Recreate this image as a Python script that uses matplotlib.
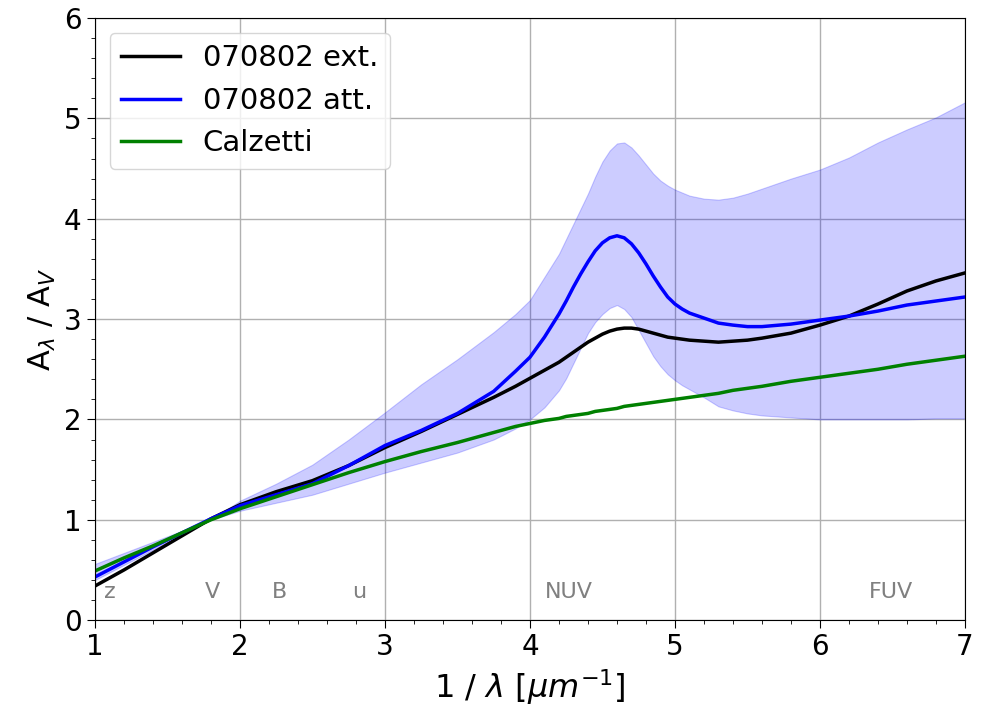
import numpy as np
import matplotlib
matplotlib.use('Agg')
import matplotlib.pyplot as plt
from matplotlib.ticker import MultipleLocator

# wartosci (1/lambda w um^-1)
x = [1.0, 1.2, 1.4, 1.6, 1.8, 2.0, 2.25, 2.5, 2.75, 3.0, 3.25, 3.5, 3.75, 3.9,
     4.0, 4.1, 4.2, 4.25, 4.3, 4.35, 4.4, 4.45, 4.5, 4.55, 4.6, 4.65, 4.7, 4.75,
     4.8, 4.85, 4.9, 4.95, 5.0, 5.05, 5.1, 5.2, 5.3, 5.4, 5.5, 5.6, 5.8, 6.0,
     6.2, 6.4, 6.6, 6.8, 7.0]

ext = [0.34, 0.50, 0.67, 0.84, 1.01, 1.15, 1.28, 1.39, 1.54, 1.72, 1.88, 2.05, 2.22, 2.33,
       2.41, 2.49, 2.57, 2.62, 2.67, 2.72, 2.77, 2.81, 2.85, 2.88, 2.90, 2.91, 2.91, 2.90,
       2.88, 2.86, 2.84, 2.82, 2.81, 2.80, 2.79, 2.78, 2.77, 2.78, 2.79, 2.81, 2.86, 2.94,
       3.03, 3.15, 3.28, 3.38, 3.46]

att = [0.43, 0.58, 0.73, 0.87, 1.01, 1.14, 1.25, 1.36, 1.54, 1.74, 1.89, 2.06, 2.28, 2.48,
       2.62, 2.82, 3.05, 3.18, 3.32, 3.45, 3.57, 3.68, 3.76, 3.81, 3.83, 3.81, 3.75, 3.66,
       3.55, 3.43, 3.32, 3.22, 3.15, 3.10, 3.06, 3.01, 2.96, 2.94, 2.925, 2.925, 2.95, 2.99,
       3.03, 3.08, 3.14, 3.18, 3.22]

att_hi = [0.56, 0.67, 0.78, 0.89, 1.00, 1.19, 1.36, 1.55, 1.80, 2.07, 2.35, 2.60, 2.87, 3.05,
          3.19, 3.42, 3.65, 3.80, 3.95, 4.10, 4.25, 4.42, 4.57, 4.68, 4.75, 4.76, 4.71, 4.63,
          4.54, 4.45, 4.38, 4.33, 4.29, 4.26, 4.23, 4.20, 4.19, 4.21, 4.25, 4.30, 4.40, 4.49,
          4.61, 4.76, 4.89, 5.01, 5.16]

att_lo = [0.40, 0.55, 0.70, 0.85, 1.00, 1.09, 1.17, 1.25, 1.36, 1.47, 1.57, 1.67, 1.80, 1.91,
          2.00, 2.12, 2.29, 2.41, 2.56, 2.71, 2.86, 2.97, 3.05, 3.11, 3.14, 3.10, 3.02, 2.89,
          2.76, 2.63, 2.53, 2.45, 2.39, 2.34, 2.30, 2.22, 2.13, 2.09, 2.06, 2.04, 2.02, 2.00,
          2.00, 2.00, 2.00, 2.01, 2.01]

calz = [0.49, 0.62, 0.74, 0.87, 1.00, 1.11, 1.23, 1.35, 1.47, 1.58, 1.68, 1.77, 1.87, 1.93,
        1.96, 1.99, 2.01, 2.03, 2.04, 2.05, 2.06, 2.08, 2.09, 2.10, 2.11, 2.13, 2.14, 2.15,
        2.16, 2.17, 2.18, 2.19, 2.20, 2.21, 2.22, 2.24, 2.26, 2.29, 2.31, 2.33, 2.38, 2.42,
        2.46, 2.50, 2.55, 2.59, 2.63]

# filtry
band_names = ['z', 'V', 'B', 'u', 'NUV', 'FUV']
band_x = [1.10, 1.81, 2.27, 2.82, 4.27, 6.49]

fig = plt.figure(figsize=(9.89, 7.12), dpi=100)
ax = fig.add_axes([0.096, 0.129, 0.8797, 0.8457])

ax.fill_between(x, att_lo, att_hi, color='blue', alpha=0.2, lw=0.8)
ax.plot(x, ext, color='black', lw=2.5, label='070802 ext.')
ax.plot(x, att, color='blue', lw=2.5, label='070802 att.')
ax.plot(x, calz, color='green', lw=2.5, label='Calzetti')

for name, bx in zip(band_names, band_x):
    ax.text(bx, 0.28, name, color='gray', fontsize=16, ha='center', va='center')

ax.set_xlim(1, 7)
ax.set_ylim(0, 6)
ax.xaxis.set_minor_locator(MultipleLocator(0.2))
ax.yaxis.set_minor_locator(MultipleLocator(0.2))
ax.tick_params(which='major', labelsize=20, length=6)
ax.tick_params(which='minor', length=3)
ax.grid(True, which='major', color='#b0b0b0', lw=1)
ax.set_axisbelow(True)

ax.set_xlabel(r'1 / $\lambda$ [$\mu m^{-1}$]', fontsize=23)
ax.set_ylabel(r'A$_\lambda$ / A$_V$', fontsize=22)
ax.legend(loc='upper left', fontsize=21, labelspacing=0.5)

fig.savefig('out.png', dpi=100)
